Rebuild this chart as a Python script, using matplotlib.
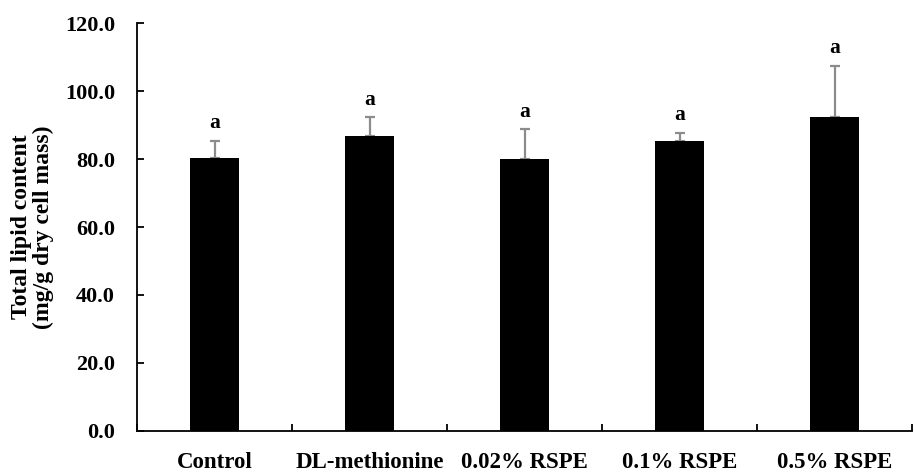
import matplotlib
matplotlib.use("Agg")
import matplotlib.pyplot as plt
import numpy as np

groups = ["Control", "DL-methionine", "0.02% RSPE", "0.1% RSPE", "0.5% RSPE"]
lipid = [80.4, 86.8, 79.9, 85.4, 92.4]
sd = [5.0, 5.5, 8.9, 2.4, 15.0]
letters = ["a", "a", "a", "a", "a"]

plt.rcParams['font.family'] = ['Liberation Serif', 'DejaVu Serif']
plt.rcParams['font.weight'] = 'bold'

fig = plt.figure(figsize=(9.14, 4.72), dpi=100)
ax = fig.add_axes([0.150, 0.087, 0.848, 0.864])

x = np.arange(len(groups))
ax.bar(x, lipid, width=0.32, color="black", zorder=2)
ax.errorbar(x, lipid, yerr=[np.zeros(len(sd)), sd], fmt="none",
            ecolor="#8c8c8c", elinewidth=1.6, capsize=3.5, capthick=1.6, zorder=1)

for i in range(len(groups)):
    ax.text(x[i], lipid[i] + sd[i] + 2.2, letters[i], ha="center", va="bottom",
            fontsize=15.5, fontweight="bold")

ax.set_xlim(-0.5, len(groups) - 0.5)
ax.set_ylim(0, 120)
ax.set_yticks(np.arange(0, 121, 20))
ax.set_yticklabels(["%.1f" % v for v in np.arange(0, 121, 20)], fontsize=16, fontweight="bold")
ax.set_xticks(x)
ax.set_xticklabels(groups, fontsize=16.5, fontweight="bold")
ax.tick_params(axis="x", length=0, pad=15)
ax.set_xticks(np.arange(-0.5, len(groups)), minor=True)
ax.tick_params(axis="x", which="minor", direction="in", length=5, width=1.3)
ax.tick_params(axis="y", direction="in", length=5, width=1.3, pad=16)

ax.spines["top"].set_visible(False)
ax.spines["right"].set_visible(False)
ax.spines["left"].set_linewidth(1.3)
ax.spines["bottom"].set_linewidth(1.3)

ax.set_ylabel("Total lipid content\n(mg/g dry cell mass)", fontsize=17, fontweight="bold",
              linespacing=1.0, labelpad=8)

fig.savefig("out.png", dpi=100)
